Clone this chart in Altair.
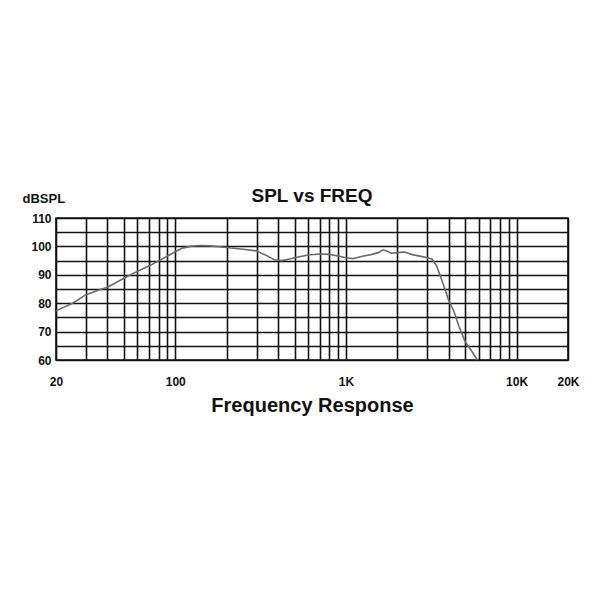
import altair as alt
import pandas as pd

freq = [20, 25, 30, 35, 40, 50, 60, 70, 80, 90, 100, 110, 125, 140, 160, 200, 250, 300,
        350, 380, 420, 460, 500, 600, 700, 800, 900, 1000, 1100, 1250, 1400, 1550, 1650,
        1750, 1850, 2000, 2200, 2450, 2800, 3000, 3200, 3400, 3700, 4000, 4300, 4600,
        5000, 5400, 5900]
spl = [77.3, 80, 83, 84.5, 85.6, 88.8, 91.2, 93.1, 94.9, 96.6, 98.1, 99.4, 100.1, 100.3,
       100.2, 99.6, 99.0, 98.4, 96.5, 95.3, 95.0, 95.5, 96.0, 97.0, 97.3, 97.2, 96.6, 96.0,
       95.7, 96.5, 97.1, 97.8, 98.8, 98.3, 97.6, 97.8, 98.0, 97.1, 96.4, 96.0, 95.5, 93.1,
       87.0, 81.0, 77.0, 71.7, 66.4, 63.5, 60.0]

x_grid = [20, 30, 40, 50, 60, 70, 80, 90, 100, 200, 300, 400, 500, 600, 700, 800, 900,
          1000, 2000, 3000, 4000, 5000, 6000, 7000, 8000, 9000, 10000, 20000]
x_labels = {20: "20", 100: "100", 1000: "1K", 10000: "10K", 20000: "20K"}
y_grid = [60, 65, 70, 75, 80, 85, 90, 95, 100, 105, 110]

df = pd.DataFrame({"freq": freq, "spl": spl})

label_expr = " : ".join(f"datum.value == {k} ? '{v}'" for k, v in x_labels.items()) + " : ''"

FONT = "Liberation Sans Narrow, Liberation Sans, Arial, sans-serif"

chart = alt.Chart(df).mark_line(color="#6b6b6b", strokeWidth=1.6).encode(
    x=alt.X("freq:Q",
            scale=alt.Scale(type="log", domain=[20, 20000], nice=False),
            axis=alt.Axis(values=x_grid, labelExpr=label_expr, title="Frequency Response",
                          grid=True, gridColor="#111111", gridWidth=1.6, gridOpacity=1,
                          ticks=False, domain=False, labelFont=FONT,
                          labelFontSize=12, labelFontWeight="bold", labelColor="#111",
                          labelPadding=16, labelFlush=False, labelOverlap=False,
                          titleFont=FONT, titleFontSize=20,
                          titleFontWeight="bold", titleColor="#111", titlePadding=8)),
    y=alt.Y("spl:Q",
            scale=alt.Scale(domain=[60, 110], nice=False, zero=False),
            axis=alt.Axis(values=y_grid,
                          labelExpr="datum.value % 10 == 0 ? datum.label : ''",
                          title="dBSPL", titleAngle=0, titleAlign="left",
                          titleBaseline="alphabetic", titleX=-34, titleY=-16,
                          titleFont=FONT, titleFontSize=13,
                          titleFontWeight="bold", titleColor="#111",
                          grid=True, gridColor="#111111", gridWidth=1.6, gridOpacity=1,
                          ticks=False, domain=False, labelFont=FONT,
                          labelFontSize=12, labelFontWeight="bold", labelColor="#111",
                          labelPadding=5, labelOverlap=False)),
).properties(
    width=512, height=142,
    title=alt.TitleParams("SPL vs FREQ", font=FONT, fontSize=19,
                          fontWeight="bold", color="#111", offset=-14, anchor="middle"),
    autosize=alt.AutoSizeParams(type="none"),
    padding={"left": 48, "top": 210, "right": 24, "bottom": 170},
).configure_view(stroke="#111111", strokeWidth=1.6)

chart.save("out.html", embed_options={"renderer": "svg", "actions": False})
